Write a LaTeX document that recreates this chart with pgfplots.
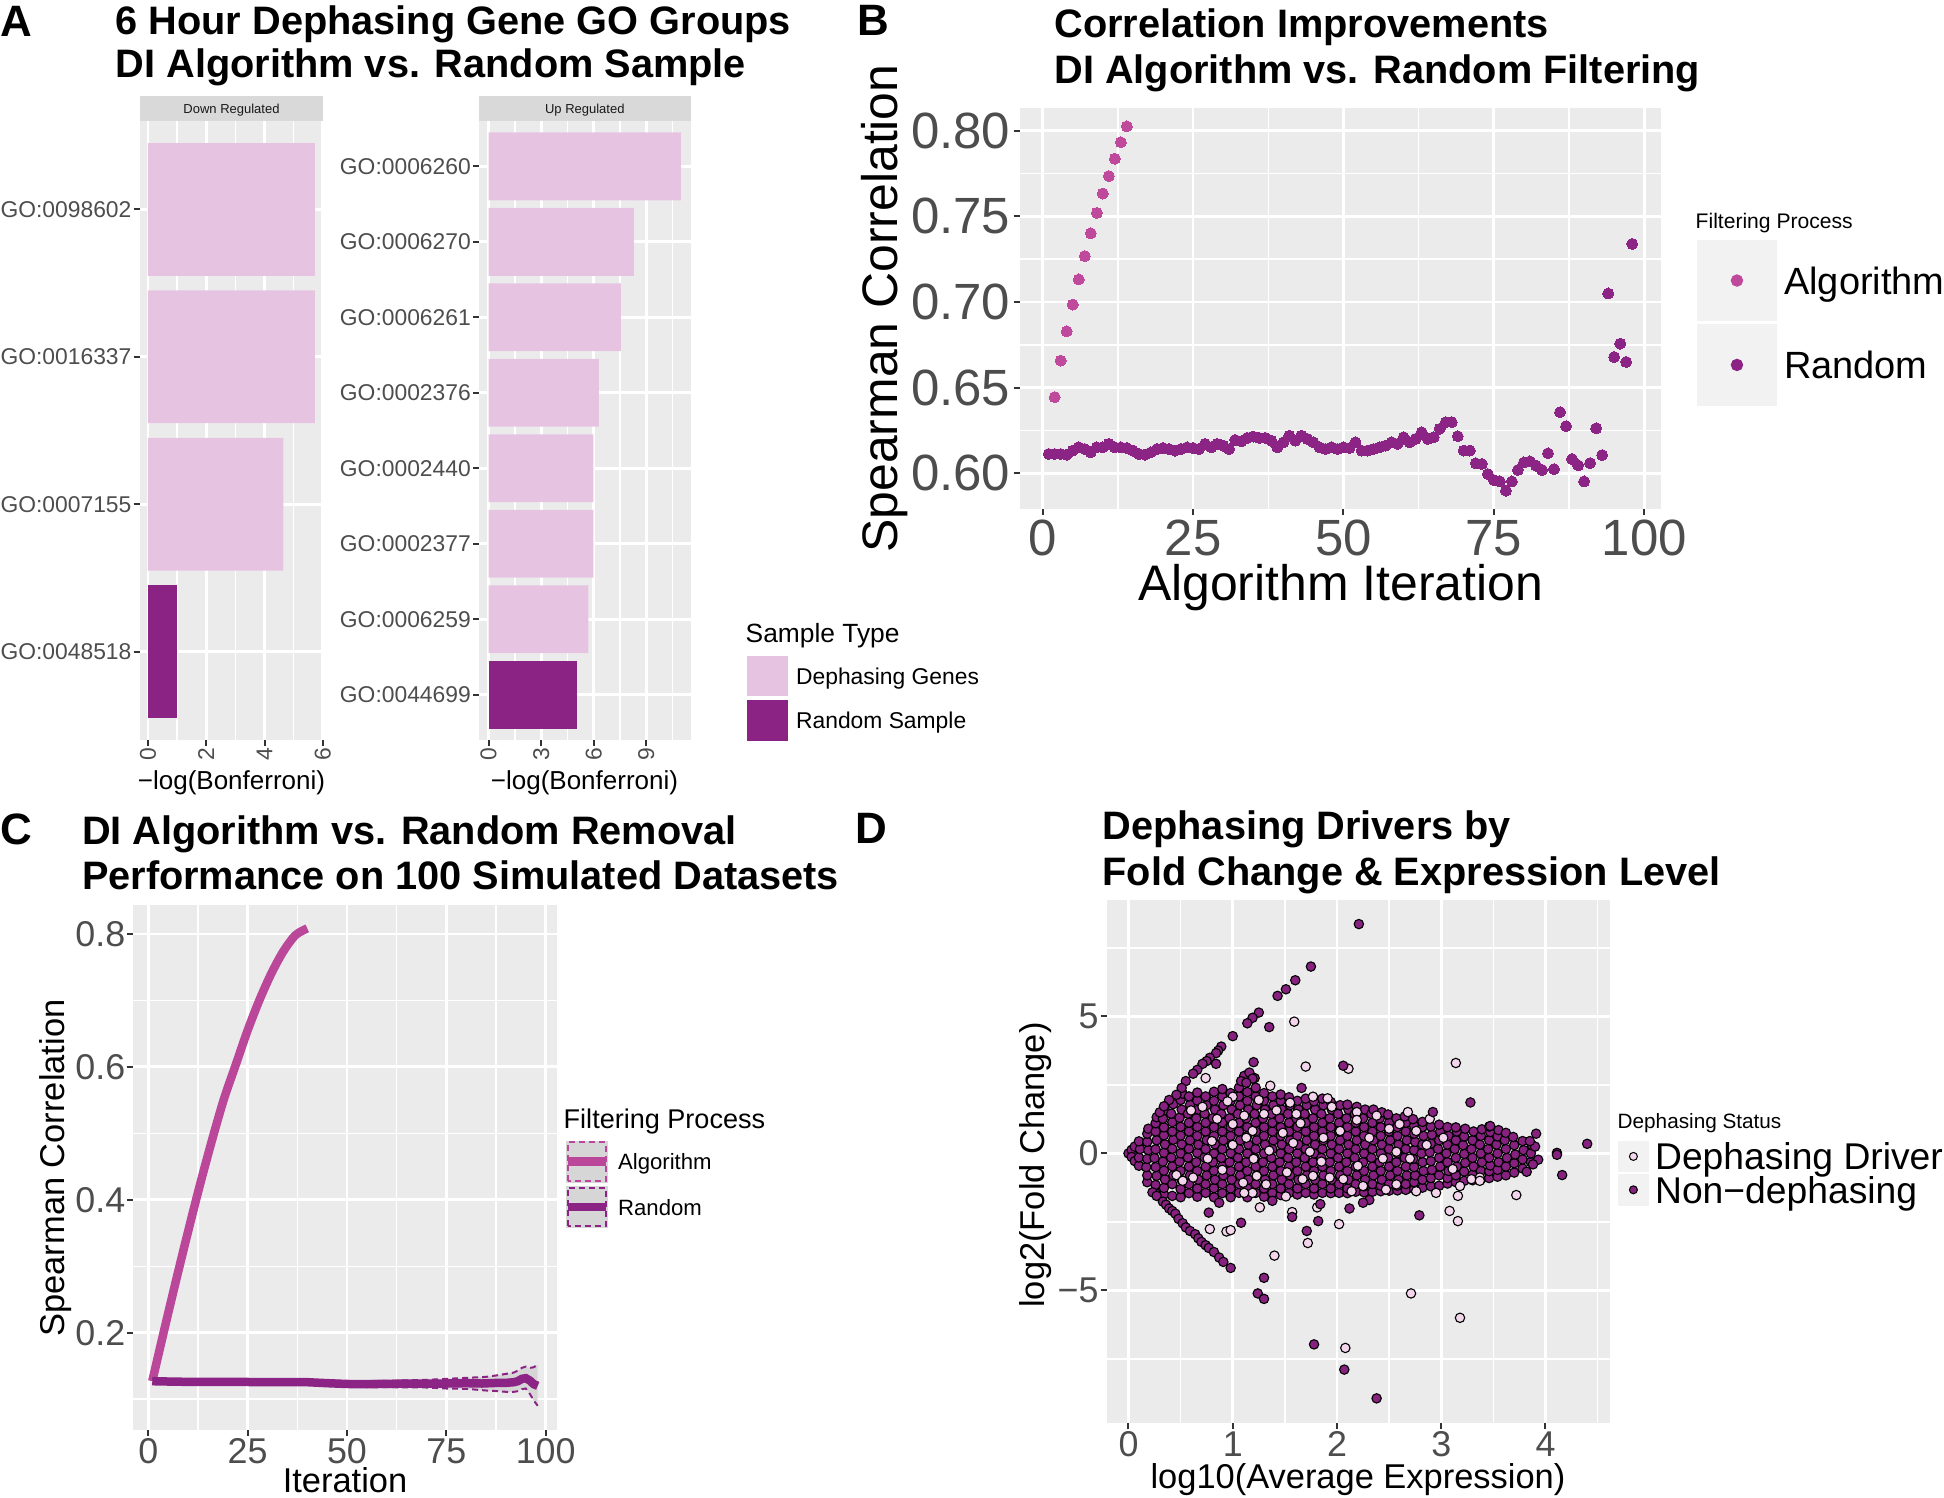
\documentclass[border=0pt]{standalone}
\usepackage{fontspec}
\setmainfont{Liberation Sans}
\usepackage{pgfplots}
\pgfplotsset{compat=1.18}
\definecolor{panelgray}{HTML}{EBEBEB}
\definecolor{stripgray}{HTML}{D9D9D9}
\definecolor{keygray}{HTML}{F2F2F2}
\definecolor{tickgray}{HTML}{333333}
\definecolor{labgray}{HTML}{4D4D4D}
\definecolor{lightpink}{HTML}{E6C4E1}
\definecolor{darkpurple}{HTML}{8A2383}
\definecolor{algB}{HTML}{BF4A9B}
\definecolor{randB}{HTML}{8B2485}
\definecolor{algC}{HTML}{BA479A}
\definecolor{randC}{HTML}{8B2485}
\definecolor{ribbongray}{HTML}{D6D6D6}
\definecolor{nondeph}{HTML}{86217F}
\definecolor{driverpink}{HTML}{F3D5EC}
\newcommand{\fs}[1]{\fontsize{#1}{#1}\selectfont}
\pgfplotsset{
 gg/.style={
   scale only axis,
   anchor=north west,
   axis background/.style={fill=panelgray},
   axis line style={draw=none},
   grid=both,
   major grid style={white, line width=0.28mm},
   minor grid style={white, line width=0.14mm},
   major tick style={draw=tickgray, line width=0.2mm},
   major tick length=0.6mm,
   minor tick length=0pt,
   tick align=outside,
   tick pos=left,
   tick label style={text=labgray, inner sep=0pt},
   legend cell align=left,
 },
}
\begin{document}
\begin{tikzpicture}
\path[use as bounding box] (0,0) rectangle (194.4mm,-149.8mm);

% ---------------- Panel A: Down Regulated
\begin{axis}[gg, at={(13.96mm,-12.1mm)}, width=18.37mm, height=61.9mm,
  xmin=-0.2865, xmax=6.0165, ymin=0.4, ymax=4.6, y dir=reverse,
  xtick={0,2,4,6}, xticklabels={0,2,4,6}, minor xtick={1,3,5},
  ytick={1,2,3,4}, yticklabels={GO:0098602,GO:0016337,GO:0007155,GO:0048518},
  xticklabel style={yshift=-0.1mm, rotate=90, anchor=east, font=\fs{6.5}},
  yticklabel style={xshift=-0.15mm, font=\fs{6.5}},
]
\addplot[xbar, bar width=0.9, bar shift=0pt, fill=lightpink, draw=none] coordinates {(5.73,1) (5.73,2) (4.65,3)};
\addplot[xbar, bar width=0.9, bar shift=0pt, fill=darkpurple, draw=none] coordinates {(1.01,4)};
\end{axis}

% ---------------- Panel A: Up Regulated
\begin{axis}[gg, at={(47.9mm,-12.1mm)}, width=21.16mm, height=61.9mm,
  xmin=-0.549, xmax=11.529, ymin=0.4, ymax=8.6, y dir=reverse,
  xtick={0,3,6,9}, xticklabels={0,3,6,9}, minor xtick={1.5,4.5,7.5,10.5},
  ytick={1,2,3,4,5,6,7,8},
  yticklabels={GO:0006260,GO:0006270,GO:0006261,GO:0002376,GO:0002440,GO:0002377,GO:0006259,GO:0044699},
  xticklabel style={yshift=-0.1mm, rotate=90, anchor=east, font=\fs{6.5}},
  yticklabel style={xshift=-0.15mm, font=\fs{6.5}},
  legend style={at={(1.2618,0.1373)}, anchor=north west, draw=none, fill=none, inner sep=0pt,
    row sep=0.4mm, column sep=0.8mm, font=\fs{6.5},
    nodes={inner sep=0pt, text height=2mm, text depth=0.36mm}},
]
\addlegendimage{legend image code/.code={\fill[lightpink] (0mm,-1.95mm) rectangle (4mm,1.95mm);}}
\addlegendentry{Dephasing Genes}
\addlegendimage{legend image code/.code={\fill[darkpurple] (0mm,-1.95mm) rectangle (4mm,1.95mm);}}
\addlegendentry{Random Sample}
\addplot[xbar, bar width=0.9, bar shift=0pt, fill=lightpink, draw=none, forget plot] coordinates {(10.98,1) (8.29,2) (7.55,3) (6.29,4) (5.98,5) (5.98,6) (5.70,7)};
\addplot[xbar, bar width=0.9, bar shift=0pt, fill=darkpurple, draw=none, forget plot] coordinates {(5.07,8)};
\end{axis}

% ---------------- Panel B
\begin{axis}[gg, at={(101.95mm,-10.8mm)}, width=64.19mm, height=40.1mm,
  xmin=-3.85, xmax=102.85, ymin=0.5792, ymax=0.8132,
  xtick={0,25,50,75,100}, xticklabels={0,25,50,75,100}, minor xtick={12.5,37.5,62.5,87.5},
  ytick={0.6,0.65,0.7,0.75,0.8}, yticklabels={0.60,0.65,0.70,0.75,0.80},
  minor ytick={0.625,0.675,0.725,0.775},
  tick label style={font=\fs{14.5}},
  xticklabel style={yshift=-0.45mm}, yticklabel style={xshift=-0.25mm},
  legend style={at={(1.054,0.673)}, anchor=north west, draw=none, fill=none, inner sep=0pt,
    row sep=0.3mm, column sep=0.7mm, font=\fs{10.8},
    nodes={inner sep=0pt, text height=3.2mm, text depth=0.47mm}},
]
\addlegendimage{legend image code/.code={\fill[keygray] (0mm,-4mm) rectangle (7.9mm,4mm); \fill[algB] (3.95mm,0mm) circle (0.55mm);}}
\addlegendentry{Algorithm}
\addlegendimage{legend image code/.code={\fill[keygray] (0mm,-4mm) rectangle (7.9mm,4mm); \fill[randB] (3.95mm,0mm) circle (0.55mm);}}
\addlegendentry{Random}
\addplot[only marks, mark=*, color=algB, mark size=0.55mm, mark options={draw=algB, fill=algB, line width=0pt}, forget plot] coordinates {
(1,0.6113) (2,0.6445) (3,0.6658) (4,0.6829) (5,0.6985) (6,0.7132) (7,0.7268) (8,0.7401)
(9,0.7520) (10,0.7633) (11,0.7735) (12,0.7836) (13,0.7932) (14,0.8025)};
\addplot[only marks, mark=*, color=randB, mark size=0.55mm, mark options={draw=randB, fill=randB, line width=0pt}, forget plot] coordinates {
(1,0.6113) (2,0.6113) (3,0.6113) (4,0.6109) (5,0.6133) (6,0.6152) (7,0.6142) (8,0.6123) (9,0.6152) (10,0.6152)
(11,0.6172) (12,0.6152) (13,0.6152) (14,0.6148) (15,0.6133) (16,0.6113) (17,0.6109) (18,0.6123) (19,0.6142) (20,0.6148)
(21,0.6142) (22,0.6133) (23,0.6142) (24,0.6152) (25,0.6148) (26,0.6142) (27,0.6172) (28,0.6152) (29,0.6172) (30,0.6162)
(31,0.6142) (32,0.6195) (33,0.6187) (34,0.6207) (35,0.6215) (36,0.6207) (37,0.6207) (38,0.6191) (39,0.6152) (40,0.6181)
(41,0.6220) (42,0.6191) (43,0.6220) (44,0.6201) (45,0.6181) (46,0.6152) (47,0.6142) (48,0.6152) (49,0.6142) (50,0.6152)
(51,0.6148) (52,0.6181) (53,0.6133) (54,0.6133) (55,0.6142) (56,0.6152) (57,0.6162) (58,0.6181) (59,0.6172) (60,0.6211)
(61,0.6181) (62,0.6201) (63,0.6240) (64,0.6201) (65,0.6211) (66,0.6260) (67,0.6299) (68,0.6299) (69,0.6217) (70,0.6133)
(71,0.6133) (72,0.6059) (73,0.6055) (74,0.5996) (75,0.5961) (76,0.5953) (77,0.5899) (78,0.5953) (79,0.6020) (80,0.6064)
(81,0.6070) (82,0.6045) (83,0.6020) (84,0.6117) (85,0.6025) (86,0.6357) (87,0.6275) (88,0.6084) (89,0.6047) (90,0.5953)
(91,0.6060) (92,0.6263) (93,0.6107) (94,0.7050) (95,0.6679) (96,0.6757) (97,0.6650) (98,0.7339)};
\end{axis}

% ---------------- Panel C
\begin{axis}[gg, at={(13.3mm,-90.5mm)}, width=42.4mm, height=52.5mm,
  xmin=-3.85, xmax=102.85, ymin=0.0536, ymax=0.8436,
  xtick={0,25,50,75,100}, xticklabels={0,25,50,75,100}, minor xtick={12.5,37.5,62.5,87.5},
  ytick={0.2,0.4,0.6,0.8}, yticklabels={0.2,0.4,0.6,0.8}, minor ytick={0.1,0.3,0.5,0.7},
  tick label style={font=\fs{10.2}},
  xticklabel style={yshift=-0.2mm}, yticklabel style={xshift=-0.1mm},
  legend style={at={(1.014,0.5524)}, anchor=north west, draw=none, fill=none, inner sep=0pt,
    row sep=0.35mm, column sep=0.8mm, font=\fs{6.3},
    nodes={inner sep=0pt, text height=1.9mm, text depth=0.31mm}},
]
\addlegendimage{legend image code/.code={\fill[ribbongray] (0mm,-2mm) rectangle (4mm,2.05mm);
  \draw[algC, dash pattern=on 0.6mm off 0.4mm, line width=0.2mm] (0.1mm,-1.9mm) rectangle (3.9mm,1.95mm);
  \draw[algC, line width=0.85mm] (0.1mm,0.02mm) -- (3.9mm,0.02mm);}}
\addlegendentry{Algorithm}
\addlegendimage{legend image code/.code={\fill[ribbongray] (0mm,-2mm) rectangle (4mm,2.05mm);
  \draw[randC, dash pattern=on 0.6mm off 0.4mm, line width=0.2mm] (0.1mm,-1.9mm) rectangle (3.9mm,1.95mm);
  \draw[randC, line width=0.85mm] (0.1mm,0.02mm) -- (3.9mm,0.02mm);}}
\addlegendentry{Random}
% random ribbon
\addplot[fill=ribbongray, draw=none, forget plot] coordinates {
(1,0.130) (20,0.129) (40,0.1285) (50,0.127) (60,0.1275) (70,0.129) (75,0.1305) (80,0.132) (85,0.1335) (88,0.136)
(90,0.138) (92,0.140) (93,0.143) (94,0.147) (95,0.149) (96,0.147) (97,0.148) (98,0.152)
(98,0.090) (97,0.098) (96,0.108) (95,0.116) (94,0.115) (93,0.112) (92,0.111) (90,0.111) (88,0.112) (85,0.113)
(80,0.1155) (75,0.116) (70,0.1175) (60,0.118) (50,0.1185) (40,0.1225) (20,0.1225) (1,0.124)};
\addplot[algC, line width=0.85mm, smooth, forget plot] coordinates {
(1,0.127) (4,0.204) (7,0.279) (10,0.352) (13,0.4225) (16,0.489) (19,0.551) (22,0.603) (25,0.655)
(28,0.701) (31,0.741) (34,0.774) (37,0.798) (40,0.8085)};
\addplot[randC, dash pattern=on 0.6mm off 0.4mm, line width=0.2mm, forget plot] coordinates {
(1,0.130) (20,0.129) (40,0.1285) (50,0.127) (60,0.1275) (70,0.129) (75,0.1305) (80,0.132) (85,0.1335) (88,0.136)
(90,0.138) (92,0.140) (93,0.143) (94,0.147) (95,0.149) (96,0.147) (97,0.148) (98,0.152)};
\addplot[randC, dash pattern=on 0.6mm off 0.4mm, line width=0.2mm, forget plot] coordinates {
(1,0.124) (20,0.1225) (40,0.1225) (50,0.1185) (60,0.118) (70,0.1175) (75,0.116) (80,0.1155) (85,0.113) (88,0.112)
(90,0.111) (92,0.111) (93,0.112) (94,0.115) (95,0.116) (96,0.108) (97,0.098) (98,0.090)};
\addplot[randC, line width=0.85mm, forget plot] coordinates {
(1,0.127) (5,0.1265) (10,0.126) (15,0.126) (20,0.1258) (25,0.1258) (30,0.1255) (35,0.1255) (40,0.1255) (45,0.124)
(50,0.1228) (55,0.1225) (60,0.123) (65,0.1233) (70,0.1235) (75,0.1235) (80,0.124) (84,0.1235) (88,0.1245) (90,0.1245)
(92,0.1255) (93,0.127) (94,0.1305) (95,0.1315) (96,0.128) (97,0.1225) (98,0.120)};
\end{axis}

% ---------------- Panel D
\begin{axis}[gg, at={(110.66mm,-89.97mm)}, width=50.32mm, height=52.33mm,
  xmin=-0.21, xmax=4.617, ymin=-9.84, ymax=9.26,
  xtick={0,1,2,3,4}, xticklabels={0,1,2,3,4}, minor xtick={0.5,1.5,2.5,3.5,4.5},
  ytick={-5,0,5}, yticklabels={−5,0,5}, minor ytick={-7.5,-2.5,2.5,7.5},
  tick label style={font=\fs{10.2}},
  xticklabel style={yshift=-0.2mm}, yticklabel style={xshift=-0.13mm},
  legend style={at={(1.0143,0.5408)}, anchor=north west, draw=none, fill=none, inner sep=0pt,
    row sep=0.2mm, column sep=0.6mm, font=\fs{10.6},
    nodes={inner sep=0pt, text height=2.84mm, text depth=0.16mm}},
]
\addlegendimage{legend image code/.code={\fill[keygray] (0mm,-1.5mm) rectangle (3mm,1.5mm);
  \filldraw[fill=driverpink, draw=black, line width=0.1mm] (1.5mm,0mm) circle (0.4mm);}}
\addlegendentry{Dephasing Driver}
\addlegendimage{legend image code/.code={\fill[keygray] (0mm,-1.5mm) rectangle (3mm,1.5mm);
  \filldraw[fill=nondeph, draw=black, line width=0.1mm] (1.5mm,0mm) circle (0.4mm);}}
\addlegendentry{Non−dephasing}
% dense body, non-dephasing
\addplot[only marks, mark=*, mark size=0.47mm, mark options={fill=nondeph, draw=black, line width=0.11mm}, forget plot] coordinates {
(0,0) (0.03,0.13) (0.03,-0.13) (0.06,0.25) (0.06,-0.28)
(0.10,-0.45) (0.10,-0.15) (0.11,0.16) (0.10,0.44)
(0.18,-1.05) (0.18,-0.8) (0.17,-0.5) (0.18,-0.2) (0.19,0.12) (0.18,0.42) (0.18,0.72) (0.19,0.9)
(0.26,-1.45) (0.26,-1.15) (0.27,-0.82) (0.26,-0.5) (0.25,-0.17) (0.26,0.15) (0.27,0.48) (0.26,0.8) (0.26,1.1) (0.27,1.32)
(0.34,-1.5) (0.34,-1.26) (0.35,-0.95) (0.34,-0.63) (0.33,-0.3) (0.34,0.02) (0.35,0.33) (0.34,0.66) (0.34,0.95) (0.33,1.27) (0.35,1.58)
(0.42,-1.55) (0.42,-1.12) (0.43,-0.8) (0.42,-0.47) (0.41,-0.15) (0.42,0.17) (0.43,0.5) (0.42,0.8) (0.42,1.14) (0.41,1.45) (0.43,1.8)
(0.50,-1.6) (0.5,-1.3) (0.51,-0.97) (0.5,-0.64) (0.49,-0.3) (0.5,0.0) (0.51,0.33) (0.5,0.65) (0.5,0.97) (0.49,1.3) (0.51,1.6) (0.5,1.95) (0.52,2.18)
(0.58,-1.45) (0.58,-1.12) (0.59,-0.8) (0.58,-0.48) (0.57,-0.15) (0.58,0.17) (0.59,0.48) (0.58,0.8) (0.58,1.12) (0.57,1.45) (0.59,1.77) (0.58,2.08)
(0.66,-1.58) (0.66,-1.28) (0.67,-0.96) (0.66,-0.64) (0.65,-0.32) (0.66,0.02) (0.67,0.32) (0.66,0.64) (0.66,0.97) (0.65,1.28) (0.67,1.6) (0.66,1.93) (0.66,2.22)
(0.74,-1.44) (0.74,-1.12) (0.75,-0.8) (0.74,-0.48) (0.73,-0.15) (0.74,0.16) (0.75,0.49) (0.74,0.8) (0.74,1.12) (0.73,1.45) (0.75,1.76) (0.74,2.08)
(0.82,-1.6) (0.82,-1.27) (0.83,-0.96) (0.82,-0.63) (0.81,-0.32) (0.82,0.0) (0.83,0.33) (0.82,0.64) (0.82,0.96) (0.81,1.29) (0.83,1.6) (0.82,1.92) (0.82,2.25)
(0.9,-1.45) (0.9,-1.12) (0.91,-0.8) (0.9,-0.47) (0.89,-0.16) (0.9,0.16) (0.91,0.48) (0.9,0.8) (0.9,1.13) (0.89,1.44) (0.91,1.76) (0.9,2.08) (0.9,2.35)
(0.98,-1.6) (0.98,-1.28) (0.99,-0.96) (0.98,-0.64) (0.97,-0.32) (0.98,0.01) (0.99,0.32) (0.98,0.64) (0.98,0.96) (0.97,1.28) (0.99,1.6) (0.98,1.92) (0.98,2.2)
(1.06,-1.44) (1.06,-1.12) (1.07,-0.8) (1.06,-0.48) (1.05,-0.16) (1.06,0.16) (1.07,0.48) (1.06,0.8) (1.06,1.12) (1.05,1.44) (1.07,1.76) (1.06,2.08) (1.06,2.4)
(1.14,-1.6) (1.14,-1.28) (1.15,-0.96) (1.14,-0.64) (1.13,-0.32) (1.14,0) (1.15,0.32) (1.14,0.64) (1.14,0.96) (1.13,1.28) (1.15,1.6) (1.14,1.92) (1.14,2.24) (1.13,2.6) (1.15,2.9)
(1.22,-1.44) (1.22,-1.12) (1.23,-0.8) (1.22,-0.48) (1.21,-0.16) (1.22,0.16) (1.23,0.48) (1.22,0.8) (1.22,1.12) (1.21,1.44) (1.23,1.76) (1.22,2.08) (1.22,2.4) (1.21,2.75)
(1.3,-1.58) (1.3,-1.28) (1.31,-0.96) (1.3,-0.64) (1.29,-0.32) (1.3,0) (1.31,0.32) (1.3,0.64) (1.3,0.96) (1.29,1.28) (1.31,1.6) (1.3,1.92) (1.3,2.2)
(1.38,-1.44) (1.38,-1.12) (1.39,-0.8) (1.38,-0.48) (1.37,-0.16) (1.38,0.16) (1.39,0.48) (1.38,0.8) (1.38,1.12) (1.37,1.44) (1.39,1.76) (1.38,2.08)
(1.46,-1.52) (1.46,-1.28) (1.47,-0.96) (1.46,-0.64) (1.45,-0.32) (1.46,0) (1.47,0.32) (1.46,0.64) (1.46,0.96) (1.45,1.28) (1.47,1.6) (1.46,1.92) (1.46,2.15)
(1.54,-1.44) (1.54,-1.12) (1.55,-0.8) (1.54,-0.48) (1.53,-0.16) (1.54,0.16) (1.55,0.48) (1.54,0.8) (1.54,1.12) (1.53,1.44) (1.55,1.76) (1.54,2.05)
(1.62,-1.5) (1.62,-1.28) (1.63,-0.96) (1.62,-0.64) (1.61,-0.32) (1.62,0) (1.63,0.32) (1.62,0.64) (1.62,0.96) (1.61,1.28) (1.63,1.6) (1.62,1.92)
(1.7,-1.44) (1.7,-1.12) (1.71,-0.8) (1.7,-0.48) (1.69,-0.16) (1.7,0.16) (1.71,0.48) (1.7,0.8) (1.7,1.12) (1.69,1.44) (1.71,1.76) (1.7,2.0)
(1.78,-1.5) (1.78,-1.28) (1.79,-0.96) (1.78,-0.64) (1.77,-0.32) (1.78,0) (1.79,0.32) (1.78,0.64) (1.78,0.96) (1.77,1.28) (1.79,1.6) (1.78,1.9)
(1.86,-1.44) (1.86,-1.12) (1.87,-0.8) (1.86,-0.48) (1.85,-0.16) (1.86,0.16) (1.87,0.48) (1.86,0.8) (1.86,1.12) (1.85,1.44) (1.87,1.76) (1.86,2.0)
(1.94,-1.45) (1.94,-1.28) (1.95,-0.96) (1.94,-0.64) (1.93,-0.32) (1.94,0) (1.95,0.32) (1.94,0.64) (1.94,0.96) (1.93,1.28) (1.95,1.6) (1.94,1.88)
(2.02,-1.44) (2.02,-1.12) (2.03,-0.8) (2.02,-0.48) (2.01,-0.16) (2.02,0.16) (2.03,0.48) (2.02,0.8) (2.02,1.12) (2.01,1.44) (2.03,1.76)
(2.1,-1.45) (2.1,-1.28) (2.11,-0.96) (2.1,-0.64) (2.09,-0.32) (2.1,0) (2.11,0.32) (2.1,0.64) (2.1,0.96) (2.09,1.28) (2.11,1.6) (2.1,1.78)
(2.18,-1.4) (2.18,-1.12) (2.19,-0.8) (2.18,-0.48) (2.17,-0.16) (2.18,0.16) (2.19,0.48) (2.18,0.8) (2.18,1.12) (2.17,1.44) (2.19,1.7)
(2.26,-1.42) (2.26,-1.2) (2.27,-0.96) (2.26,-0.64) (2.25,-0.32) (2.26,0) (2.27,0.32) (2.26,0.64) (2.26,0.96) (2.25,1.28) (2.27,1.6)
(2.34,-1.4) (2.34,-1.12) (2.35,-0.8) (2.34,-0.48) (2.33,-0.16) (2.34,0.16) (2.35,0.48) (2.34,0.8) (2.34,1.12) (2.33,1.44) (2.35,1.6)
(2.42,-1.38) (2.42,-1.18) (2.43,-0.96) (2.42,-0.64) (2.41,-0.32) (2.42,0) (2.43,0.32) (2.42,0.64) (2.42,0.96) (2.41,1.28) (2.43,1.5)
(2.5,-1.36) (2.5,-1.12) (2.51,-0.8) (2.5,-0.48) (2.49,-0.16) (2.5,0.16) (2.51,0.48) (2.5,0.8) (2.5,1.12) (2.49,1.42)
(2.58,-1.35) (2.58,-1.18) (2.59,-0.96) (2.58,-0.64) (2.57,-0.32) (2.58,0) (2.59,0.32) (2.58,0.64) (2.58,0.96) (2.57,1.28)
(2.66,-1.33) (2.66,-1.12) (2.67,-0.8) (2.66,-0.48) (2.65,-0.16) (2.66,0.16) (2.67,0.48) (2.66,0.8) (2.66,1.12) (2.65,1.35)
(2.74,-1.3) (2.74,-1.05) (2.75,-0.8) (2.74,-0.5) (2.73,-0.2) (2.74,0.12) (2.75,0.42) (2.74,0.72) (2.74,1.0) (2.73,1.25)
(2.82,-1.25) (2.82,-0.96) (2.83,-0.64) (2.82,-0.32) (2.81,0) (2.82,0.32) (2.83,0.64) (2.82,0.96) (2.82,1.15)
(2.9,-1.2) (2.9,-0.9) (2.91,-0.6) (2.9,-0.28) (2.89,0.04) (2.9,0.36) (2.91,0.68) (2.9,0.98)
(2.98,-1.18) (2.98,-0.8) (2.99,-0.48) (2.98,-0.16) (2.97,0.16) (2.98,0.48) (2.99,0.8) (2.98,1.05)
(3.06,-1.1) (3.06,-0.9) (3.07,-0.64) (3.06,-0.32) (3.05,0) (3.06,0.32) (3.07,0.64) (3.06,0.96)
(3.14,-1.05) (3.14,-0.8) (3.15,-0.48) (3.14,-0.16) (3.13,0.16) (3.14,0.48) (3.15,0.8) (3.14,0.95)
(3.22,-1.0) (3.22,-0.66) (3.23,-0.34) (3.22,-0.02) (3.21,0.3) (3.22,0.62) (3.23,0.9)
(3.3,-0.98) (3.3,-0.78) (3.31,-0.48) (3.3,-0.16) (3.29,0.16) (3.3,0.48) (3.31,0.8)
(3.38,-0.95) (3.38,-0.64) (3.39,-0.32) (3.38,0) (3.37,0.32) (3.38,0.64) (3.39,0.88)
(3.46,-0.9) (3.46,-0.65) (3.47,-0.44) (3.46,-0.16) (3.45,0.16) (3.46,0.48) (3.47,0.78) (3.46,0.98)
(3.54,-0.85) (3.54,-0.6) (3.55,-0.32) (3.54,0) (3.53,0.32) (3.54,0.62) (3.55,0.85)
(3.62,-0.8) (3.62,-0.48) (3.63,-0.16) (3.62,0.16) (3.61,0.48) (3.62,0.75)
(3.7,-0.7) (3.7,-0.36) (3.71,-0.04) (3.7,0.3) (3.69,0.6)
(3.78,-0.55) (3.78,-0.22) (3.79,0.12) (3.78,0.45)
(3.86,-0.32) (3.86,0.0) (3.87,0.3)};
% dephasing drivers
\addplot[only marks, mark=*, mark size=0.47mm, mark options={fill=driverpink, draw=black, line width=0.11mm}, forget plot] coordinates {
(1.0,2.07) (0.85,1.26) (1.0,1.07) (0.60,1.57) (0.71,1.70) (1.11,1.38) (1.19,0.82) (1.30,1.44) (1.42,1.57) (1.61,1.44)
(1.77,2.07) (1.91,2.01) (1.95,1.70) (2.19,1.51) (2.19,1.22) (2.38,1.38) (2.60,1.07) (2.76,0.82) (3.02,0.57) (3.11,-0.57)
(3.29,-0.94) (3.37,-0.88) (2.95,-1.44) (2.76,-1.38) (2.57,-1.13) (2.47,-1.32) (2.25,-1.19) (2.14,-1.38) (2.06,-0.94) (1.93,-0.88)
(1.77,-0.82) (1.67,-0.94) (1.52,-0.69) (1.51,-1.57) (1.32,-1.13) (1.23,-0.82) (1.19,-1.44) (1.10,-1.07) (1.11,-1.44) (0.62,-0.88)
(0.46,-0.79) (0.52,-1.0) (0.76,-0.19) (1.0,0.31) (1.13,0.57) (1.48,0.75) (1.58,0.38) (1.74,0.06) (1.87,0.57) (2.03,0.82)
(2.31,0.57) (2.44,-0.19) (2.57,0.06) (2.70,-0.19) (2.86,0.31) (3.18,-1.19) (3.37,-1.0) (0.95,1.9) (1.25,1.95) (1.55,1.85)
(0.8,0.45) (1.35,0.1) (2.2,-0.45) (1.85,-0.3) (0.9,-0.6) (2.5,0.9) (1.65,1.1) (1.2,-0.2)
(1.59,4.81) (1.70,3.17) (2.11,3.09) (3.14,3.30) (1.36,2.47) (0.74,2.75) (2.68,1.51) (2.89,1.26) (3.72,-1.52) (3.16,-1.55)
(3.08,-2.10) (3.16,-2.47) (2.71,-5.11) (3.18,-6.0) (2.08,-7.10) (1.40,-3.73) (1.72,-3.27) (2.02,-2.58) (1.81,-1.97) (1.57,-2.14)
(0.78,-2.76) (0.94,-2.85) (0.98,-2.80) (1.26,-1.97)};
% outliers and edge lines, non-dephasing
\addplot[only marks, mark=*, mark size=0.47mm, mark options={fill=nondeph, draw=black, line width=0.11mm}, forget plot] coordinates {
(2.21,8.37) (1.75,6.82) (1.60,6.32) (1.51,5.99) (1.43,5.75) (1.25,5.14) (1.19,4.95) (1.14,4.75) (1.35,4.61) (1.00,4.28)
(0.89,3.9) (0.86,3.75) (0.84,3.66) (0.78,3.49) (0.75,3.37) (0.71,3.27) (0.66,3.05) (0.62,2.91) (0.55,2.64) (0.51,2.39)
(0.46,2.14) (0.39,1.95) (0.30,1.5) (0.34,1.72) (0.84,3.27) (1.20,3.33) (2.06,3.20) (1.66,2.39) (3.28,1.86) (2.92,1.51)
(3.47,1.0) (3.91,0.72) (4.40,0.35) (4.11,0.02) (4.11,-0.05) (4.16,-0.79) (3.82,-0.67) (3.93,-0.23) (3.90,0.25) (3.85,0.45)
(3.88,-0.4) (2.79,-2.26) (2.31,-1.70) (2.25,-1.80) (2.12,-2.01) (1.82,-2.47) (1.84,-1.85) (1.57,-2.32) (1.71,-2.83) (1.38,-1.73)
(1.08,-2.53) (1.30,-4.54) (1.24,-5.11) (1.30,-5.31) (1.78,-6.97) (2.07,-7.89) (2.38,-8.94) (0.77,-2.16) (0.87,-1.80)
(1.11,2.83) (1.16,2.95) (1.08,2.64) (1.19,2.73) (1.13,2.58)
(0.23,-1.42) (0.27,-1.55) (0.33,-1.76) (0.36,-1.87) (0.39,-2.01) (0.42,-2.1) (0.45,-2.20) (0.48,-2.39) (0.52,-2.55) (0.55,-2.70)
(0.59,-2.83) (0.64,-2.95) (0.67,-3.1) (0.70,-3.23) (0.74,-3.35) (0.77,-3.45) (0.82,-3.60) (0.87,-3.8) (0.91,-3.96) (0.98,-4.18)};
\end{axis}

% ---------------- strips (panel A)
\fill[stripgray] (13.96mm,-9.6mm) rectangle (32.33mm,-12.1mm);
\node[font=\fs{3.7}, text=black!90, anchor=base, inner sep=0pt] at (23.15mm,-11.32mm) {Down Regulated};
\fill[stripgray] (47.9mm,-9.6mm) rectangle (69.06mm,-12.1mm);
\node[font=\fs{3.7}, text=black!90, anchor=base, inner sep=0pt] at (58.48mm,-11.32mm) {Up Regulated};

% ---------------- panel letters and titles
\node[anchor=base west, font=\bfseries\fs{12.5}, inner sep=0pt] at (0mm,-3.7mm) {A};
\node[anchor=base west, font=\bfseries\fs{11.3}, inner sep=0pt] at (11.5mm,-3.45mm) {6 Hour Dephasing Gene GO Groups};
\node[anchor=base west, font=\bfseries\fs{11.3}, inner sep=0pt] at (11.5mm,-7.75mm) {DI Algorithm vs. Random Sample};
\node[anchor=base west, font=\bfseries\fs{12.5}, inner sep=0pt] at (85.7mm,-3.56mm) {B};
\node[anchor=base west, font=\bfseries\fs{11.3}, inner sep=0pt] at (105.37mm,-3.76mm) {Correlation Improvements};
\node[anchor=base west, font=\bfseries\fs{11.3}, inner sep=0pt] at (105.37mm,-8.3mm) {DI Algorithm vs. Random Filtering};
\node[anchor=base west, font=\bfseries\fs{12.5}, inner sep=0pt] at (0mm,-84.4mm) {C};
\node[anchor=base west, font=\bfseries\fs{11.3}, inner sep=0pt] at (8.13mm,-84.4mm) {DI Algorithm vs. Random Removal};
\node[anchor=base west, font=\bfseries\fs{11.3}, inner sep=0pt] at (8.13mm,-88.9mm) {Performance on 100 Simulated Datasets};
\node[anchor=base west, font=\bfseries\fs{12.5}, inner sep=0pt] at (85.5mm,-84.3mm) {D};
\node[anchor=base west, font=\bfseries\fs{11.3}, inner sep=0pt] at (110.2mm,-83.94mm) {Dephasing Drivers by};
\node[anchor=base west, font=\bfseries\fs{11.3}, inner sep=0pt] at (110.2mm,-88.53mm) {Fold Change \& Expression Level};

% ---------------- axis titles
\node[font=\fs{7.4}, anchor=base, inner sep=0pt] at (23.15mm,-78.9mm) {−log(Bonferroni)};
\node[font=\fs{7.4}, anchor=base, inner sep=0pt] at (58.45mm,-78.9mm) {−log(Bonferroni)};
\node[font=\fs{14.2}, rotate=90, inner sep=0pt] at (88.45mm,-30.85mm) {Spearman Correlation};
\node[font=\fs{14.2}, anchor=base, inner sep=0pt] at (134.05mm,-60.0mm) {Algorithm Iteration};
\node[font=\fs{9.8}, rotate=90, inner sep=0pt] at (5.56mm,-116.8mm) {Spearman Correlation};
\node[font=\fs{9.8}, anchor=base, inner sep=0pt] at (34.5mm,-149.2mm) {Iteration};
\node[font=\fs{9.8}, rotate=90, inner sep=0pt] at (103.6mm,-116.5mm) {log2(Fold Change)};
\node[font=\fs{9.8}, anchor=base, inner sep=0pt] at (135.8mm,-148.8mm) {log10(Average Expression)};

% ---------------- legend titles
\node[font=\fs{7.5}, anchor=base west, inner sep=0pt] at (74.5mm,-64.2mm) {Sample Type};
\node[font=\fs{6}, anchor=base west, inner sep=0pt] at (169.5mm,-22.8mm) {Filtering Process};
\node[font=\fs{7.7}, anchor=base west, inner sep=0pt] at (56.3mm,-112.8mm) {Filtering Process};
\node[font=\fs{5.9}, anchor=base west, inner sep=0pt] at (161.7mm,-112.8mm) {Dephasing Status};
\end{tikzpicture}
\end{document}
